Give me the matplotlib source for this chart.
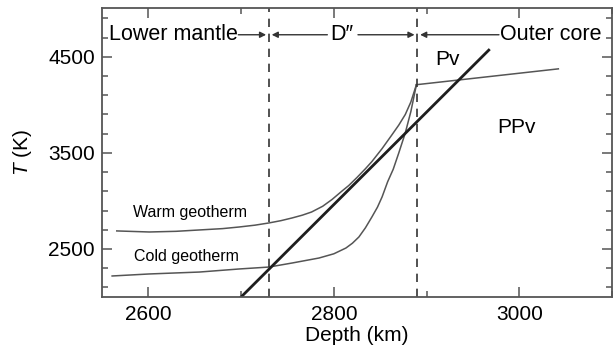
import matplotlib
matplotlib.use('Agg')
import matplotlib.pyplot as plt
import numpy as np

plt.rcParams['font.family'] = ['Liberation Sans', 'DejaVu Sans']
plt.rcParams['mathtext.fontset'] = 'custom'
plt.rcParams['mathtext.it'] = 'Liberation Sans:italic'
plt.rcParams['mathtext.rm'] = 'Liberation Sans'

# geotherms (depth km, T K)
warm_depth = [2566, 2601, 2630, 2655, 2680, 2698, 2715, 2730, 2743, 2755, 2766, 2776,
              2788, 2798, 2809, 2816, 2825, 2834, 2841, 2852, 2862, 2870, 2877, 2883, 2889]
warm_T = [2688, 2677, 2684, 2698, 2712, 2729, 2748, 2771, 2795, 2823, 2852, 2885,
          2945, 3015, 3105, 3160, 3245, 3335, 3410, 3545, 3680, 3790, 3900, 4030, 4210]

cold_depth = [2561, 2601, 2655, 2698, 2730, 2755, 2784, 2800, 2813, 2820, 2827, 2834,
              2841, 2847, 2852, 2858, 2864, 2870, 2877, 2883, 2889]
cold_T = [2219, 2240, 2260, 2292, 2312, 2354, 2406, 2450, 2510, 2560, 2625, 2720,
          2833, 2935, 3042, 3200, 3330, 3500, 3708, 3930, 4210]

# Pv-PPv phase boundary
ppv_depth = [2700, 2967]
ppv_T = [2000, 4570]

# outer core adiabat
core_depth = [2889, 3042]
core_T = [4210, 4375]

boundaries = [2730, 2890]

fig = plt.figure(figsize=(6.14, 3.57), dpi=100)
ax = fig.add_axes([0.166, 0.168, 0.831, 0.81])

line_c = '#555555'
ax.plot(warm_depth, warm_T, color=line_c, lw=1.1)
ax.plot(cold_depth, cold_T, color=line_c, lw=1.1)
ax.plot(core_depth, core_T, color=line_c, lw=1.1)
ax.plot(ppv_depth, ppv_T, color='#1e1e1e', lw=2.0)

for b in boundaries:
    ax.axvline(b, color='#333333', lw=1.2, ls=(0, (5, 4)))

ax.set_xlim(2550, 3100)
ax.set_ylim(2000, 5010)

ax.set_xticks([2600, 2800, 3000])
ax.set_xticks([2700, 2900, 3100], minor=True)
ax.set_yticks([2500, 3500, 4500])
ax.set_yticks(np.arange(2100, 5000, 200), minor=True)
ax.tick_params(which='both', direction='in', top=True, right=True,
               color='#555555', width=1.1, labelsize=15, pad=5)
ax.tick_params(axis='x', pad=6)
ax.tick_params(which='major', length=7)
ax.tick_params(which='minor', length=4.5)
for s in ax.spines.values():
    s.set_color('#555555')
    s.set_linewidth(1.3)

ax.set_xlabel('Depth (km)', fontsize=15, labelpad=1)
ax.set_ylabel('$T$ (K)', fontsize=15, labelpad=10)

# region labels with arrows
ty = 4730
ax.text(2558, ty, 'Lower mantle', fontsize=15.5, va='center', ha='left')
ax.text(2809, ty, 'D\u2033', fontsize=15.5, va='center', ha='center')
ax.text(3088, ty, 'Outer core', fontsize=15.5, va='center', ha='right')
ap = dict(arrowstyle='-|>', color='#333333', lw=1.0, mutation_scale=9,
          shrinkA=0, shrinkB=0)
ax.annotate('', xy=(2727, ty), xytext=(2697, ty), arrowprops=ap)
ax.annotate('', xy=(2733, ty), xytext=(2793, ty), arrowprops=ap)
ax.annotate('', xy=(2887, ty), xytext=(2826, ty), arrowprops=ap)
ax.annotate('', xy=(2893, ty), xytext=(2978, ty), arrowprops=ap)

ax.text(2909, 4469, 'Pv', fontsize=15, va='center', ha='left')
ax.text(2976, 3760, 'PPv', fontsize=15, va='center', ha='left')
ax.text(2583, 2885, 'Warm geotherm', fontsize=11.5, va='center', ha='left')
ax.text(2585, 2427, 'Cold geotherm', fontsize=11.5, va='center', ha='left')

fig.savefig('out.png', dpi=100)
